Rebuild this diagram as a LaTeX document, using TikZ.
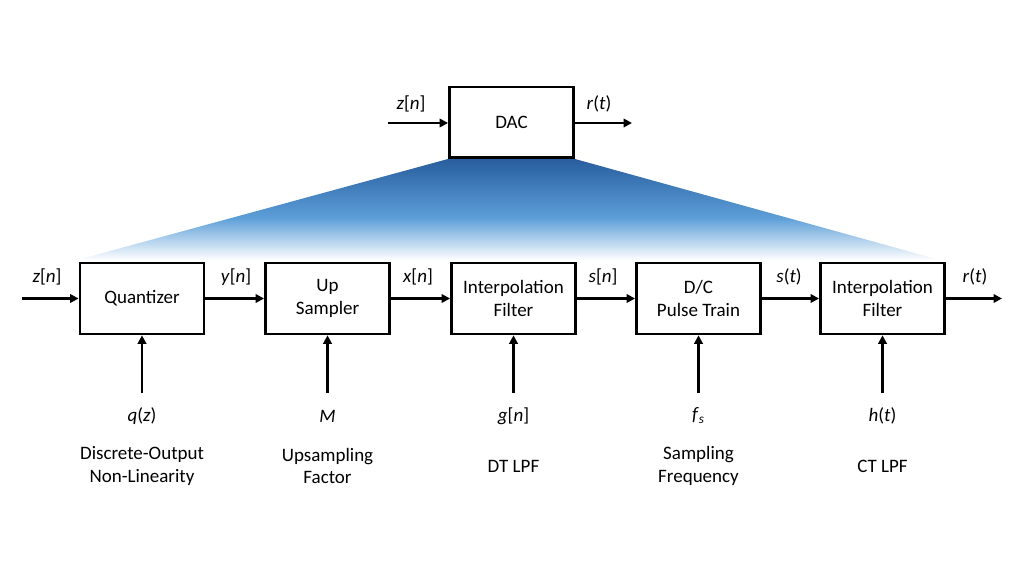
\documentclass[tikz,border=0pt]{standalone}
\usepackage{fontspec}
\setmainfont{Carlito}
\usepackage{tikz}
\usetikzlibrary{positioning}
\usetikzlibrary{arrows.meta,shapes}
\usetikzlibrary{calc}
\definecolor{dacdark}{RGB}{40,94,158}
\definecolor{daclight}{RGB}{92,158,216}
\pgfdeclareverticalshading{wedgeshade}{100bp}{color(0bp)=(white); color(25bp)=(white); color(46bp)=(daclight); color(75bp)=(dacdark); color(100bp)=(dacdark)}
\tikzstyle{block}=[rectangle,draw,line width=2pt,minimum width=3.1cm,minimum height=1.77cm,inner sep=0pt,align=center,font=\fontsize{13.5}{16.2}\selectfont]
\tikzstyle{sig} = [draw,line width=1.6pt,-{Triangle[length=6pt,width=6pt]}]
\tikzstyle{lbl} = [font=\fontsize{13.5}{16.2}\selectfont,inner sep=0pt,align=center]
\newcommand{\iv}[1]{\textit{#1}}

\begin{document}
\begin{tikzpicture}[x=0.025cm,y=-0.025cm]
 \useasboundingbox (0,0) rectangle (1024,576);

 %zoom wedge
 \shade[shading=wedgeshade]
   (448,159) -- (575,159) -- (940,260) -- (77,260) -- cycle;

 %DAC
 \node[block, fill=white] (dac) at (511.5,122.5) {DAC};
 \coordinate (dacin) at (388,123);
 \coordinate (dacout) at (632,123);
 \path[sig] (dacin) -- (dac.west |- dacin);
 \path[sig] (dac.east |- dacout) -- (dacout);
 \node[lbl] (dacz) at (411,104) {\iv{z}[\iv{n}]};
 \node[lbl] (dacr) at (599,104) {\iv{r}(\iv{t})};

 %chain
 \foreach \x/\name/\label in {142/quant/Quantizer, 327.5/up/{Up\\Sampler}, 513.5/dtf/{Interpolation\\Filter},
                              698.5/dc/{D/C\\Pulse Train}, 882.5/ctf/{Interpolation\\Filter}}
        \node[block] (\name) at (\x,298.5) {\label};

 \coordinate (in) at (22,298.5);
 \coordinate (out) at (1002,298.5);
 \path[sig] (in) -- (quant);
 \foreach \source/ \dest in {quant/up, up/dtf, dtf/dc, dc/ctf}
        \path[sig] (\source) -- (\dest);
 \path[sig] (ctf) -- (out);

 \foreach \x/\name/\label in {47/zn/{\iv{z}[\iv{n}]}, 236/yn/{\iv{y}[\iv{n}]}, 418/xn/{\iv{x}[\iv{n}]},
                              603/sn/{\iv{s}[\iv{n}]}, 789/st/{\iv{s}(\iv{t})}, 975/rt/{\iv{r}(\iv{t})}}
        \node[lbl] (\name) at (\x,277) {\label};

 %parameters
 \foreach \x/\name/\blk/\prm/\desc in {142/pq/quant/{\iv{q}(\iv{z})}/{Discrete-Output\\Non-Linearity},
                                       327.5/pm/up/{\iv{M}}/{Upsampling\\Factor},
                                       513.5/pg/dtf/{\iv{g}[\iv{n}]}/{DT LPF},
                                       698.5/pf/dc/{\iv{f}\textsubscript{\iv{s}}}/{Sampling\\Frequency},
                                       882.5/ph/ctf/{\iv{h}(\iv{t})}/{CT LPF}}
 {
   \coordinate (\name) at (\x,393);
   \path[sig] (\name) -- (\blk.south);
   \node[lbl] (\name v) at (\x,416) {\prm};
   \node[lbl] (\name d) at (\x,466) {\desc};
 }

\end{tikzpicture}
\end{document}
